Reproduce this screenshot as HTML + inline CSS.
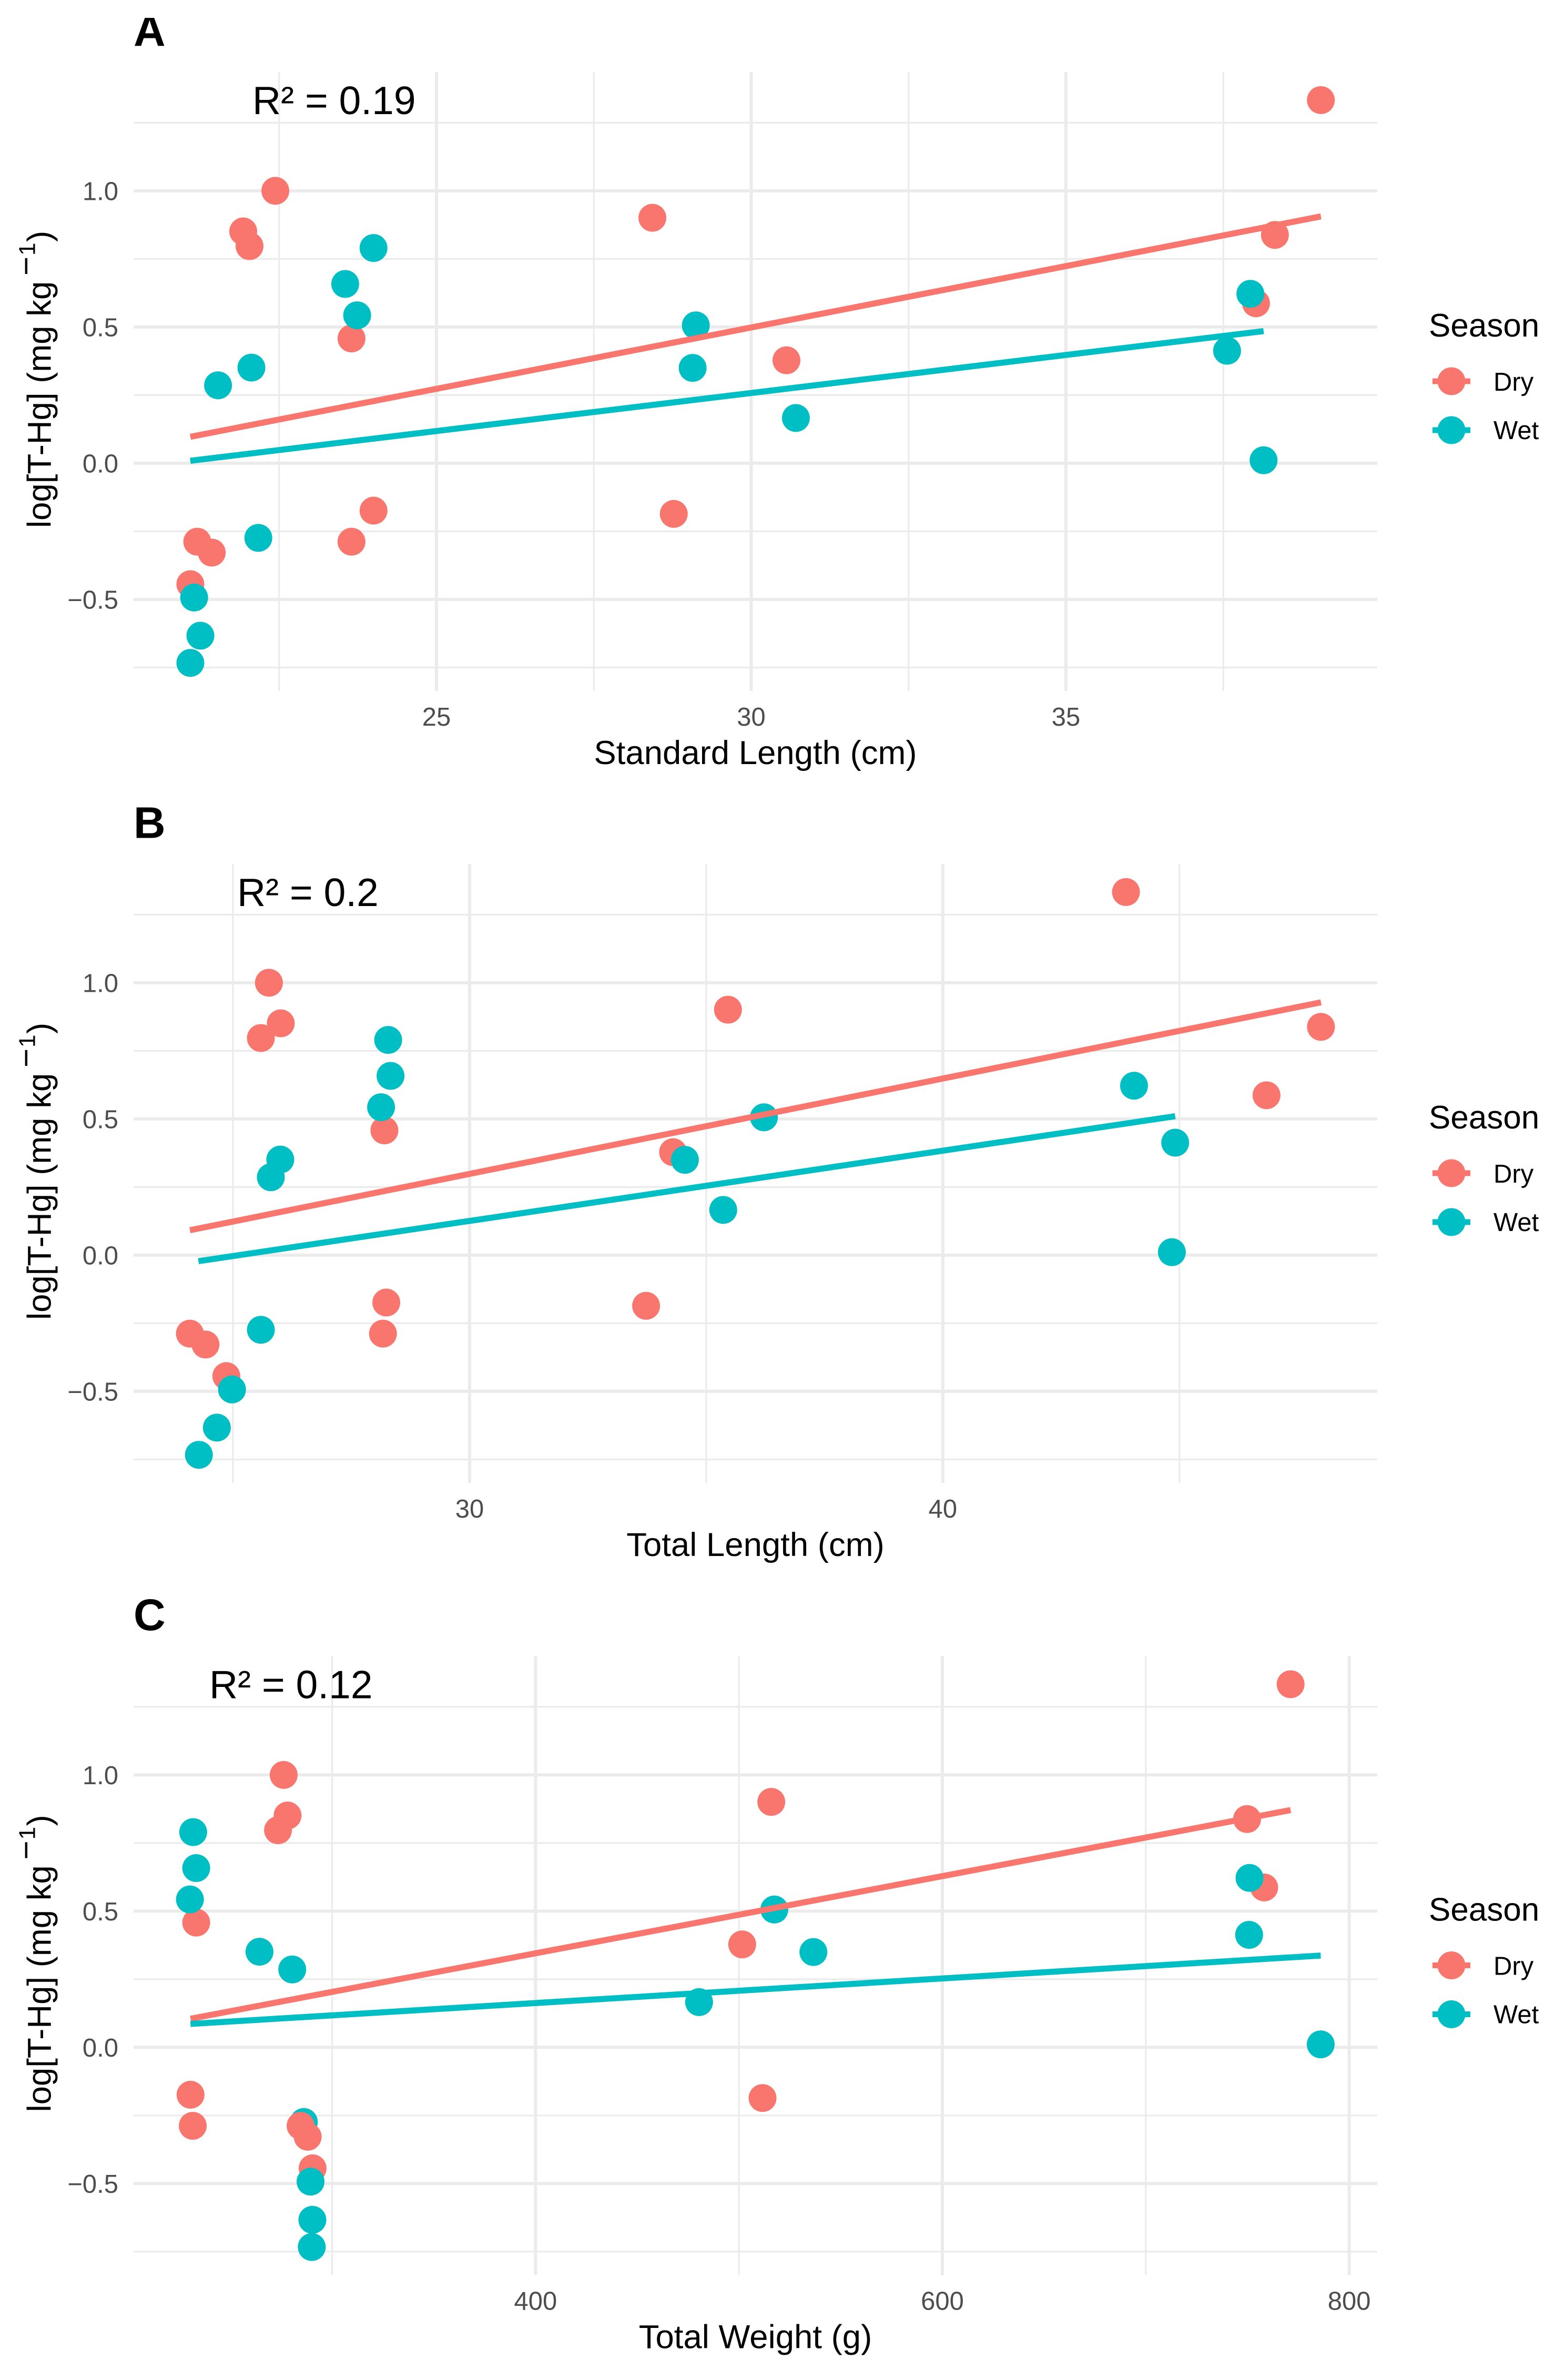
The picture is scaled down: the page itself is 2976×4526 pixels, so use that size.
<!DOCTYPE html>
<html lang="en">
<head>
<meta charset="utf-8">
<title>log[T-Hg] vs fish size by season</title>
<style>
  html, body { margin: 0; padding: 0; background: #ffffff; }
  svg { display: block; }
  text { font-family: "Liberation Sans", Arial, sans-serif; }
  .tag { font-size: 84px; font-weight: 700; fill: #000; }
  .r2 { font-size: 75px; fill: #000; }
  .axis-title { font-size: 63.5px; fill: #000; }
  .legend-title { font-size: 62px; fill: #000; }
  .legend-label { font-size: 49px; fill: #000; }
  .tick { font-size: 49px; fill: #4d4d4d; }
</style>
</head>
<body>
<svg id="figure" xmlns="http://www.w3.org/2000/svg" width="2976" height="4526" viewBox="0 0 2976 4526">
  <defs>
    <clipPath id="tag-a-clip"><rect x="0" y="34" width="400" height="100"/></clipPath>
  </defs>
  <rect x="0" y="0" width="2976" height="4526" fill="#ffffff"/>

  <!-- Panel A -->
  <g id="panel-a">
    <g class="plot-layer"></g>
    <text class="tag" x="254" y="87.5" clip-path="url(#tag-a-clip)">A</text>
    <text class="r2" x="480" y="217">R² = 0.19</text>
    <text class="axis-title" x="1436.5" y="1453" text-anchor="middle">Standard Length (cm)</text>
    <text class="axis-title" transform="translate(96.4,1004) rotate(-90)">log[T-Hg] (mg kg<tspan x="480" y="-26" font-size="62">−</tspan><tspan x="518" y="-30" font-size="44">1</tspan><tspan x="544" y="0">)</tspan></text>
    <g>
      <text class="legend-title" x="2717" y="640">Season</text>
      <line x1="2724" x2="2796" y1="725" y2="725" stroke="#F8766D" stroke-width="11"/>
      <circle cx="2760" cy="725" r="26.5" fill="#F8766D"/>
      <text class="legend-label" x="2840" y="743">Dry</text>
      <line x1="2724" x2="2796" y1="818" y2="818" stroke="#00BFC4" stroke-width="11"/>
      <circle cx="2760" cy="818" r="26.5" fill="#00BFC4"/>
      <text class="legend-label" x="2840" y="835">Wet</text>
    </g>
  </g>

  <!-- Panel B -->
  <g id="panel-b" transform="translate(0,1506)">
    <g class="plot-layer"></g>
    <text class="tag" x="254" y="87.5">B</text>
    <text class="r2" x="451" y="217">R² = 0.2</text>
    <text class="axis-title" x="1436.5" y="1453" text-anchor="middle">Total Length (cm)</text>
    <text class="axis-title" transform="translate(96.4,1004) rotate(-90)">log[T-Hg] (mg kg<tspan x="480" y="-26" font-size="62">−</tspan><tspan x="518" y="-30" font-size="44">1</tspan><tspan x="544" y="0">)</tspan></text>
    <g>
      <text class="legend-title" x="2717" y="640">Season</text>
      <line x1="2724" x2="2796" y1="725" y2="725" stroke="#F8766D" stroke-width="11"/>
      <circle cx="2760" cy="725" r="26.5" fill="#F8766D"/>
      <text class="legend-label" x="2840" y="743">Dry</text>
      <line x1="2724" x2="2796" y1="818" y2="818" stroke="#00BFC4" stroke-width="11"/>
      <circle cx="2760" cy="818" r="26.5" fill="#00BFC4"/>
      <text class="legend-label" x="2840" y="835">Wet</text>
    </g>
  </g>

  <!-- Panel C -->
  <g id="panel-c" transform="translate(0,3012.5)">
    <g class="plot-layer"></g>
    <text class="tag" x="254" y="87.5">C</text>
    <text class="r2" x="398" y="217">R² = 0.12</text>
    <text class="axis-title" x="1436.5" y="1453" text-anchor="middle">Total Weight (g)</text>
    <text class="axis-title" transform="translate(96.4,1004) rotate(-90)">log[T-Hg] (mg kg<tspan x="480" y="-26" font-size="62">−</tspan><tspan x="518" y="-30" font-size="44">1</tspan><tspan x="544" y="0">)</tspan></text>
    <g>
      <text class="legend-title" x="2717" y="640">Season</text>
      <line x1="2724" x2="2796" y1="725" y2="725" stroke="#F8766D" stroke-width="11"/>
      <circle cx="2760" cy="725" r="26.5" fill="#F8766D"/>
      <text class="legend-label" x="2840" y="743">Dry</text>
      <line x1="2724" x2="2796" y1="818" y2="818" stroke="#00BFC4" stroke-width="11"/>
      <circle cx="2760" cy="818" r="26.5" fill="#00BFC4"/>
      <text class="legend-label" x="2840" y="835">Wet</text>
    </g>
  </g>
</svg>

<script>
// ---------- data ----------
const hgDry = [1.333, 1.0, 0.851, 0.797, 0.901, 0.838, 0.587, 0.458, 0.378, -0.174, -0.186, -0.288, -0.288, -0.328, -0.444];
const hgWet = [0.79, 0.658, 0.622, 0.543, 0.506, 0.413, 0.351, 0.35, 0.286, 0.166, 0.011, -0.274, -0.493, -0.633, -0.733];

const standardLengthDry = [39.05, 22.44, 21.93, 22.03, 28.43, 38.32, 38.02, 23.65, 30.56, 24.0, 28.77, 21.2, 23.65, 21.43, 21.09];
const standardLengthWet = [24.0, 23.55, 37.93, 23.74, 29.12, 37.56, 22.06, 29.07, 21.53, 30.71, 38.14, 22.17, 21.15, 21.25, 21.09];

const totalLengthDry = [43.87, 25.76, 26.01, 25.59, 35.46, 47.99, 46.84, 28.2, 34.3, 28.24, 33.73, 24.09, 28.17, 24.42, 24.86];
const totalLengthWet = [28.28, 28.33, 44.04, 28.13, 36.22, 44.91, 26.0, 34.55, 25.8, 35.36, 44.84, 25.59, 24.98, 24.66, 24.28];

const totalWeightDry = [771.2, 276.2, 278.1, 273.4, 515.9, 749.8, 758.2, 233.2, 501.6, 230.4, 511.6, 284.5, 231.5, 288.0, 290.4];
const totalWeightWet = [231.7, 233.2, 751.0, 230.1, 517.4, 750.8, 264.3, 536.6, 280.4, 480.4, 786.0, 286.1, 289.4, 290.3, 290.0];

// fitted regression end points
const fitStandardDryX = [21.09, 39.05];
const fitStandardDryY = [0.097, 0.906];
const fitStandardWetX = [21.09, 38.14];
const fitStandardWetY = [0.009, 0.485];
const fitTotalLengthDryX = [24.09, 47.99];
const fitTotalLengthDryY = [0.0915, 0.928];
const fitTotalLengthWetX = [24.27, 44.91];
const fitTotalLengthWetY = [-0.022, 0.51];
const fitWeightDryX = [230.4, 771.2];
const fitWeightDryY = [0.105, 0.871];
const fitWeightWetX = [230.4, 786.0];
const fitWeightWetY = [0.086, 0.337];

// y axis ticks (shared)
const yMajorTicks = [-0.5, 0, 0.5, 1];
const yMinorTicks = [-0.75, -0.25, 0.25, 0.75, 1.25];
const yTickLabels = ['−0.5', '0.0', '0.5', '1.0'];

// x axis ticks
const xMajorStandard = [25, 30, 35];
const xMinorStandard = [22.5, 27.5, 32.5, 37.5];
const xLabelsStandard = ['25', '30', '35'];
const xMajorTotalLength = [30, 40];
const xMinorTotalLength = [25, 35, 45];
const xLabelsTotalLength = ['30', '40'];
const xMajorWeight = [400, 600, 800];
const xMinorWeight = [300, 500, 700];
const xLabelsWeight = ['400', '600', '800'];

// index of the wet observation plotted beneath the dry layer
const wetDrawnBelowDry = [11];

// ---------- drawing ----------
const SVG_NS = 'http://www.w3.org/2000/svg';
const PLOT = { left: 254, right: 2619, top: 137, bottom: 1314 };
const Y_DOMAIN = [-0.836, 1.436];
const COLOR_DRY = '#F8766D';
const COLOR_WET = '#00BFC4';
const GRID = '#ebebeb';

function make(tag, parent) {
  const el = document.createElementNS(SVG_NS, tag);
  parent.appendChild(el);
  return el;
}

function drawPanel(id, cfg) {
  const layer = document.querySelector('#panel-' + id + ' .plot-layer');
  const x = v => PLOT.left + (v - cfg.xDomain[0]) / (cfg.xDomain[1] - cfg.xDomain[0]) * (PLOT.right - PLOT.left);
  const y = v => PLOT.bottom - (v - Y_DOMAIN[0]) / (Y_DOMAIN[1] - Y_DOMAIN[0]) * (PLOT.bottom - PLOT.top);

  function hLine(v, width, name) {
    const l = make('line', layer);
    l.setAttribute('x1', PLOT.left);
    l.setAttribute('x2', PLOT.right);
    l.setAttribute('y1', y(v));
    l.setAttribute('y2', y(v));
    l.setAttribute('stroke', GRID);
    l.setAttribute('stroke-width', width);
    
    
  }
  function vLine(v, width, name) {
    const l = make('line', layer);
    l.setAttribute('x1', x(v));
    l.setAttribute('x2', x(v));
    l.setAttribute('y1', PLOT.top);
    l.setAttribute('y2', PLOT.bottom);
    l.setAttribute('stroke', GRID);
    l.setAttribute('stroke-width', width);
    
    
  }

  yMinorTicks.forEach(v => hLine(v, 3.2, 'y-minor-gridline'));
  cfg.xMinor.forEach(v => vLine(v, 3.2, 'x-minor-gridline'));
  yMajorTicks.forEach(v => hLine(v, 6, 'y-major-gridline'));
  cfg.xMajor.forEach(v => vLine(v, 6, 'x-major-gridline'));

  yMajorTicks.forEach((v, i) => {
    const t = make('text', layer);
    t.setAttribute('class', 'tick');
    t.setAttribute('x', 225);
    t.setAttribute('y', y(v) + 17.5);
    t.setAttribute('text-anchor', 'end');
    
    
    t.textContent = yTickLabels[i];
  });
  cfg.xMajor.forEach((v, i) => {
    const t = make('text', layer);
    t.setAttribute('class', 'tick');
    t.setAttribute('x', x(v));
    t.setAttribute('y', 1380);
    t.setAttribute('text-anchor', 'middle');
    
    
    t.textContent = cfg.xLabels[i];
  });

  function point(px, py, color, name) {
    const c = make('circle', layer);
    c.setAttribute('cx', x(px));
    c.setAttribute('cy', y(py));
    c.setAttribute('r', 26.5);
    c.setAttribute('fill', color);
    
    
  }
  wetDrawnBelowDry.forEach(i => point(cfg.wetX[i], hgWet[i], COLOR_WET, 'point-wet'));
  cfg.dryX.forEach((v, i) => point(v, hgDry[i], COLOR_DRY, 'point-dry'));
  cfg.wetX.forEach((v, i) => {
    if (!wetDrawnBelowDry.includes(i)) point(v, hgWet[i], COLOR_WET, 'point-wet');
  });

  function fit(xs, ys, color, name) {
    const p = make('polyline', layer);
    p.setAttribute('points', xs.map((v, i) => x(v) + ',' + y(ys[i])).join(' '));
    p.setAttribute('fill', 'none');
    p.setAttribute('stroke', color);
    p.setAttribute('stroke-width', 11.5);
    
    
  }
  fit(cfg.fitDryX, cfg.fitDryY, COLOR_DRY, 'fit-line-dry');
  fit(cfg.fitWetX, cfg.fitWetY, COLOR_WET, 'fit-line-wet');
}

drawPanel('a', {
  xDomain: [20.188, 39.946],
  xMajor: xMajorStandard, xMinor: xMinorStandard, xLabels: xLabelsStandard,
  dryX: standardLengthDry, wetX: standardLengthWet,
  fitDryX: fitStandardDryX, fitDryY: fitStandardDryY,
  fitWetX: fitStandardWetX, fitWetY: fitStandardWetY
});
drawPanel('b', {
  xDomain: [22.9, 49.18],
  xMajor: xMajorTotalLength, xMinor: xMinorTotalLength, xLabels: xLabelsTotalLength,
  dryX: totalLengthDry, wetX: totalLengthWet,
  fitDryX: fitTotalLengthDryX, fitDryY: fitTotalLengthDryY,
  fitWetX: fitTotalLengthWetX, fitWetY: fitTotalLengthWetY
});
drawPanel('c', {
  xDomain: [202.4, 813.8],
  xMajor: xMajorWeight, xMinor: xMinorWeight, xLabels: xLabelsWeight,
  dryX: totalWeightDry, wetX: totalWeightWet,
  fitDryX: fitWeightDryX, fitDryY: fitWeightDryY,
  fitWetX: fitWeightWetX, fitWetY: fitWeightWetY
});
</script>
</body>
</html>
